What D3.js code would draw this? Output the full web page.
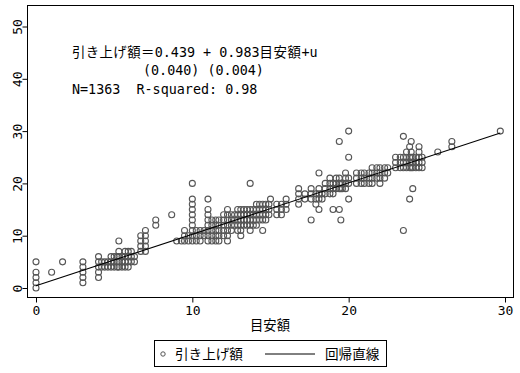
<!DOCTYPE html>
<html><head><meta charset="utf-8">
<script src="https://cdn.jsdelivr.net/npm/d3@7"></script>
<style>
html,body{margin:0;padding:0;background:#fff;}
text{font-family:"DejaVu Sans Mono","Noto Sans CJK JP",monospace;}
.cjk{font-family:"Noto Sans CJK JP",sans-serif;}
</style></head>
<body><svg id="c" width="520" height="373"></svg>
<script>
// x value (目安額) of each column of points
const guideline = [0,1,1.7,3,4.0,4.2,4.4,4.6,4.8,5.0,5.2,5.3,5.5,5.7,5.9,6.1,6.3,6.7,7.0,7.66,8.68,9.0,9.3,9.5,9.75,
  10.0,10.25,10.5,10.75,11.0,11.25,11.5,11.7,12.0,12.25,12.5,12.7,12.9,13.1,13.3,13.5,13.7,13.9,14.1,14.3,14.5,14.7,14.9,
  15.0,15.4,15.7,16.0,16.8,17.2,17.6,17.9,18.1,18.3,18.5,18.8,19.0,19.2,19.4,19.5,19.6,19.8,20.0,
  20.5,20.8,21.0,21.3,21.5,21.8,22.0,22.3,22.5,23.0,23.3,23.5,23.7,23.9,24.0,24.1,24.3,24.5,24.7,25.7,26.6,29.7];
// y values (引き上げ額) observed in each column
const increase = [[0,1,2,3,5],[3],[5],[1,2,3,4,5],[2,3,4,5,6],[4,5],[4,5],[4,5],[4,5,6],[4,5,6],[4,5,6],[4,5,6,7,9],[4,5,6],[4,5,6,7],[4,5,6,7],[5,6,7],[5,6],[7,8,9,10],[7,8,9,10,11],[12,13],[14],[9],[9],[9,10,11],[9,10],
  [9,10,11,12,13,14,15,16,17,20],[9,10,11],[9,10,11],[10,11],[9,10,11,12,13,14,15,17],[9,10,11,12,13],[9,10,11,12,13],[9,10,11,12,13],[10,11,12,13,14],[9,10,11,12,13,14,15],[11,12,13,14],[12,13,14],[11,12,13,14,15],[10,11,12,13,14,15],[12,13,14,15],[12,13,14,15],[11,12,13,14,15,20],[12,13,14,15],[12,13,14,15,16],[13,14,15,16],[11,13,14,15,16],[13,14,15,16],[14,15,16],
  [17],[14,15,16],[14,15,16],[15,16,17],[16,17,18,19],[17,18],[13,17,18,19],[16,17,18],[15,17,18,19,22],[17,18],[18,19,20],[18,19,20,21],[15,18,19,20],[19,20,21],[15,19,20,21,28],[13,19,20],[19,20],[19,20,21,22],[17,20,21,25,30],
  [20,21,22],[20,21,22],[20,21,22],[20,21,22],[20,21,22,23],[21,22,23],[20,21,22,23],[21,22,23],[22,23],[23,24,25],[23,24,25],[11,23,24,25,29],[23,24,25,26],[17,23,24,25,27],[23,24,25,26,28],[19,23,24,25],[23,24,25],[23,24,25,26,27],[23,24,25],[26],[27,28],[30]];
const xTicks = [0,10,20,30];
const yTicks = [0,10,20,30,40,50];
const coef = [0.439, 0.983];
const se = ["0.040","0.004"];
const nObs = 1363, r2 = "0.98";
const legendLabels = ["引き上げ額","回帰直線"];
const yLabel = "引き上げ額", xLabel = "目安額";

const pts = [];
guideline.forEach((gx,i)=>increase[i].forEach(v=>pts.push([gx,v])));

const svg = d3.select("#c");
const x = d3.scaleLinear().domain([0,30]).range([36,505]);
const y = d3.scaleLinear().domain([0,50]).range([288,26.5]);
const L=27.5, R=513.5, T=5.5, B=297.5;

svg.append("rect").attr("x",L).attr("y",T).attr("width",R-L).attr("height",B-T)
  .attr("fill","none").attr("stroke","#000").attr("stroke-width",1);

// points
svg.append("g").selectAll("circle").data(pts).join("circle")
  .attr("cx",d=>x(d[0])).attr("cy",d=>y(d[1])).attr("r",3)
  .attr("fill","none").attr("stroke","#555").attr("stroke-width",1.1);

// regression line
const xMax = d3.max(guideline), xMin = d3.min(guideline);
svg.append("line").attr("x1",x(xMin)).attr("y1",y(coef[0]+coef[1]*xMin))
  .attr("x2",x(xMax)).attr("y2",y(coef[0]+coef[1]*xMax))
  .attr("stroke","#000").attr("stroke-width",1.1);

// x axis
const xa = svg.append("g").attr("transform",`translate(0,${B})`)
  .call(d3.axisBottom(x).tickValues(xTicks).tickSize(5).tickPadding(3));
xa.select(".domain").remove();
xa.selectAll("text").attr("font-size",13).attr("fill","#000").attr("font-family",'"DejaVu Sans Mono"');
xa.selectAll("line").attr("stroke","#000");

// y axis
const ya = svg.append("g").attr("transform",`translate(${L},0)`)
  .call(d3.axisLeft(y).tickValues(yTicks).tickSize(5));
ya.select(".domain").remove();
ya.selectAll("line").attr("stroke","#000");
ya.selectAll("text").attr("font-size",13).attr("fill","#000")
  .attr("x",0).attr("text-anchor","middle")
  .attr("transform","translate(-10,0) rotate(-90)").attr("dy","0.32em")
  .attr("font-family",'"DejaVu Sans Mono"');

// x label
svg.append("text").attr("class","cjk").attr("x",270).attr("y",330).attr("text-anchor","middle")
  .attr("font-size",13.3).text(xLabel);

// annotation
const ann = svg.append("g").attr("font-size",13.4).attr("fill","#000");
const l1 = ann.append("text").attr("x",72).attr("y",57).attr("xml:space","preserve");
l1.append("tspan").attr("class","cjk").attr("letter-spacing",0.4).text(yLabel + "＝");
l1.append("tspan").text(`${coef[0]} + ${coef[1]}`);
l1.append("tspan").attr("class","cjk").attr("letter-spacing",0.6).text(xLabel);
l1.append("tspan").text("+u");
ann.append("text").attr("x",143).attr("y",75).text(`(${se[0]}) (${se[1]})`);
ann.append("text").attr("x",72).attr("y",93.5).attr("xml:space","preserve")
  .text(`N=${nObs}  R-squared: ${r2}`);

// legend
const lg = svg.append("g");
lg.append("rect").attr("x",154.5).attr("y",340.5).attr("width",232).attr("height",26)
  .attr("fill","#fff").attr("stroke","#000").attr("stroke-width",1);
lg.append("circle").attr("cx",163).attr("cy",354).attr("r",2.2).attr("fill","none")
  .attr("stroke","#555").attr("stroke-width",1);
lg.append("text").attr("class","cjk").attr("x",175).attr("y",358.5).attr("font-size",13.6).text(legendLabels[0]);
lg.append("line").attr("x1",265).attr("x2",315).attr("y1",354).attr("y2",354)
  .attr("stroke","#000").attr("stroke-width",1);
lg.append("text").attr("class","cjk").attr("x",325).attr("y",358.5).attr("font-size",13.6).text(legendLabels[1]);
</script></body></html>
